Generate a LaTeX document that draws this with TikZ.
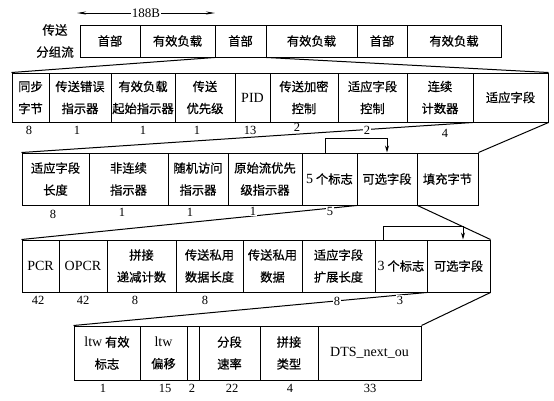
\documentclass[tikz,border=0pt]{standalone}
\usepackage{fontspec}
\setmainfont{Liberation Serif}
\newfontfamily\cjk[FakeBold=0.6]{Noto Sans CJK SC}
\newcommand\lat{\rmfamily\fontsize{14}{22}\selectfont}
\usetikzlibrary{arrows.meta}
\pgfdeclarelayer{bg}\pgfdeclarelayer{mid}\pgfsetlayers{bg,mid,main}
\tikzset{
  box/.style={draw,line width=1pt,inner sep=0pt,align=center,font=\fontsize{12.3}{22}\selectfont\cjk},
  num/.style={inner sep=0.6pt,fill=white,font=\fontsize{12.5}{12.5}\selectfont},
  conn/.style={line width=1pt},
  arr/.style={line width=0.9pt,-{Stealth[length=7pt,width=4pt]}},
}
\newcommand\fld[6]{%
  \pgfmathsetmacro\fcx{(#2+#3)/2}\pgfmathsetmacro\fcy{(#4+#5)/2}%
  \pgfmathsetmacro\fw{#3-#2}\pgfmathsetmacro\fh{#5-#4}%
  \node[box,minimum width=\fw pt,minimum height=\fh pt] (#1) at (\fcx,\fcy) {#6};}
\begin{document}
\begin{tikzpicture}[x=1pt,y=-1pt]
\useasboundingbox (0,0) rectangle (554,400);
% row 1
\node[align=center,font=\fontsize{12.5}{22}\selectfont\cjk] (lab) at (55,41) {传送\\分组流};
\fld{a1}{80}{140}{25}{57}{首部}
\fld{a2}{140}{215}{25}{57}{有效负载}
\fld{a3}{215}{266}{25}{57}{首部}
\fld{a4}{266}{357}{25}{57}{有效负载}
\fld{a5}{357}{407}{25}{57}{首部}
\fld{a6}{407}{501}{25}{57}{有效负载}
\coordinate (p1) at (77,13);
\coordinate (p2) at (215,13);
\draw[line width=0.8pt,{Stealth[length=9pt,width=3pt]}-{Stealth[length=9pt,width=3pt]}] (p1) -- node[fill=white,inner sep=1pt,font=\fontsize{13}{13}\selectfont] (b188) {188B} (p2);
% row 2
\fld{b1}{12}{49}{73}{122}{同步\\字节}
\fld{b2}{49}{111}{73}{122}{传送错误\\指示器}
\fld{b3}{111}{175}{73}{122}{有效负载\\起始指示器}
\fld{b4}{175}{235}{73}{122}{传送\\优先级}
\fld{b5}{235}{270}{73}{122}{\lat PID}
\fld{b6}{270}{338}{73}{122}{传送加密\\控制}
\fld{b7}{338}{407}{73}{122}{适应字段\\控制}
\fld{b8}{407}{473}{73}{122}{连续\\计数器}
\fld{b9}{473}{548}{73}{122}{适应字段}
% row 3
\fld{c1}{22}{89}{153}{205}{适应字段\\长度}
\fld{c2}{89}{168}{153}{205}{非连续\\指示器}
\fld{c3}{168}{228}{153}{205}{随机访问\\指示器}
\fld{c4}{228}{302}{153}{205}{原始流优先\\级指示器}
\fld{c5}{302}{357}{153}{205}{{\lat 5} 个标志}
\fld{c6}{357}{417}{153}{205}{可选字段}
\fld{c7}{417}{478}{153}{205}{填充字节}
% row 4
\fld{d1}{22}{59}{240}{292}{\lat PCR}
\fld{d2}{59}{107}{240}{292}{\lat OPCR}
\fld{d3}{107}{176}{240}{292}{拼接\\递减计数}
\fld{d4}{176}{243}{240}{292}{传送私用\\数据长度}
\fld{d5}{243}{302}{240}{292}{传送私用\\数据}
\fld{d6}{302}{375}{240}{292}{适应字段\\扩展长度}
\fld{d7}{375}{427}{240}{292}{{\lat 3} 个标志}
\fld{d8}{427}{490}{240}{292}{可选字段}
% row 5
\fld{e1}{74}{140}{326}{380}{{\lat ltw} 有效\\标志}
\fld{e2}{140}{187}{326}{380}{{\lat ltw}\\偏移}
\fld{e3}{187}{199}{326}{380}{}
\fld{e4}{199}{260}{326}{380}{分段\\速率}
\fld{e5}{260}{318}{326}{380}{拼接\\类型}
\fld{e6}{318}{421}{326}{380}{\lat DTS\_next\_ou}
% connectors
\begin{pgfonlayer}{bg}
\draw[conn] (a3.south west) -- (b1.north west);
\draw[conn] (a3.south east) -- (b9.north east);
\draw[conn] (b9.south west) -- (c1.north west);
\draw[conn] (b9.south east) -- (c7.north east);
\draw[conn] (c6.south west) -- (d1.north west);
\draw[conn] (c6.south east) -- (d8.north east);
\draw[conn] (d8.south west) -- (e1.north west);
\draw[conn] (d8.south east) -- (e6.north east);
\end{pgfonlayer}
\draw[arr] ([xshift=-4.5pt]c5.north) -- ++(0,-14) -| (c6.north);
\draw[arr] ([xshift=-18pt]d7.north) -- ++(0,-13) -| ([xshift=4.5pt]d8.north);
% numbers
\begin{pgfonlayer}{mid}
\node[num] (n21) at (29,130) {8};
\node[num] (n22) at (77,130) {1};
\node[num] (n23) at (143,130) {1};
\node[num] (n24) at (197,130) {1};
\node[num] (n25) at (250,130) {13};
\node[num] (n26) at (297,127) {2};
\node[num] (n27) at (367,130) {2};
\node[num] (n28) at (445,133) {4};
\node[num] (n31) at (53,214) {8};
\node[num] (n32) at (122,212) {1};
\node[num] (n33) at (190,212) {1};
\node[num] (n34) at (253,211) {1};
\node[num] (n35) at (330,211) {5};
\node[num] (n41) at (38,300) {42};
\node[num] (n42) at (83,300) {42};
\node[num] (n43) at (135,300) {8};
\node[num] (n44) at (205,300) {8};
\node[num] (n45) at (337,301) {8};
\node[num] (n46) at (400,300) {3};
\node[num] (n51) at (103,388) {1};
\node[num] (n52) at (165,388) {15};
\node[num] (n53) at (192,388) {2};
\node[num] (n54) at (232,388) {22};
\node[num] (n55) at (290,388) {4};
\node[num] (n56) at (370,388) {33};
\end{pgfonlayer}
\end{tikzpicture}
\end{document}
